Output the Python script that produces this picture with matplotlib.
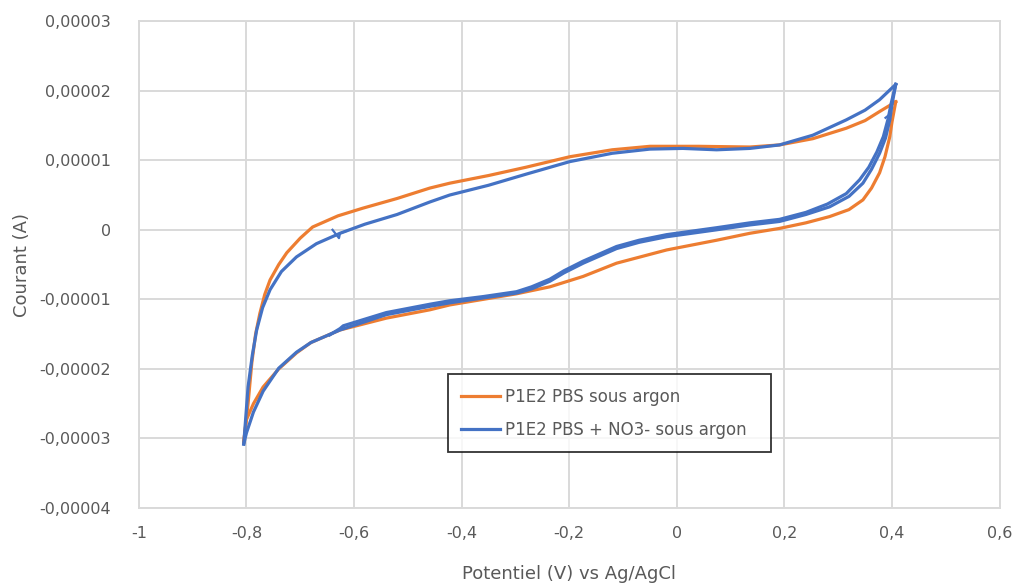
import matplotlib
matplotlib.use('Agg')
import matplotlib.pyplot as plt
from matplotlib.ticker import FuncFormatter

# currents in units of 1e-5 A, potentials in V
# orange: PBS sous argon
orange_down_x = [0.407, 0.40, 0.396, 0.387, 0.377, 0.362, 0.346, 0.32, 0.284, 0.24, 0.191, 0.136, 0.074,
                 -0.019, -0.112, -0.174, -0.236, -0.298, -0.36, -0.422, -0.459, -0.54, -0.626, -0.68,
                 -0.707, -0.74, -0.769, -0.787, -0.80, -0.805]
orange_down_y = [1.84, 1.55, 1.34, 1.05, 0.82, 0.60, 0.43, 0.29, 0.19, 0.10, 0.02, -0.05, -0.15,
                 -0.29, -0.48, -0.67, -0.82, -0.92, -1.00, -1.08, -1.15, -1.27, -1.44, -1.62,
                 -1.77, -2.00, -2.26, -2.50, -2.73, -3.05]
orange_up_x = [-0.805, -0.797, -0.79, -0.783, -0.775, -0.766, -0.756, -0.74, -0.725, -0.70, -0.677,
               -0.63, -0.584, -0.52, -0.459, -0.422, -0.35, -0.28, -0.199, -0.12, -0.05, 0.04, 0.136,
               0.191, 0.253, 0.315, 0.35, 0.377, 0.407]
orange_up_y = [-3.05, -2.50, -1.91, -1.50, -1.20, -0.93, -0.72, -0.50, -0.33, -0.12, 0.04,
               0.20, 0.31, 0.45, 0.60, 0.67, 0.78, 0.90, 1.05, 1.15, 1.20, 1.20, 1.19,
               1.22, 1.31, 1.46, 1.57, 1.70, 1.84]

# blue: PBS + NO3- sous argon
blue_up_x = [-0.805, -0.797, -0.789, -0.781, -0.77, -0.756, -0.735, -0.707, -0.67, -0.626, -0.58,
             -0.52, -0.459, -0.422, -0.35, -0.28, -0.199, -0.12, -0.05, 0.011, 0.074, 0.136, 0.191,
             0.253, 0.315, 0.35, 0.377, 0.407]
blue_up_y = [-3.08, -2.26, -1.80, -1.44, -1.12, -0.86, -0.60, -0.39, -0.20, -0.05, 0.08,
             0.22, 0.40, 0.50, 0.64, 0.80, 0.98, 1.10, 1.16, 1.17, 1.15, 1.17, 1.22,
             1.36, 1.58, 1.72, 1.87, 2.09]
blue_down1_x = [0.407, 0.40, 0.396, 0.388, 0.377, 0.362, 0.346, 0.32, 0.284, 0.24, 0.191, 0.136, 0.074,
                -0.019, -0.07, -0.112, -0.174, -0.21, -0.236, -0.27, -0.298, -0.36, -0.422, -0.459,
                -0.54, -0.626, -0.68, -0.707, -0.74, -0.769, -0.787, -0.80, -0.805]
blue_down1_y = [2.09, 1.80, 1.58, 1.32, 1.10, 0.87, 0.67, 0.48, 0.33, 0.22, 0.12, 0.07, 0.00,
                -0.10, -0.18, -0.27, -0.48, -0.62, -0.74, -0.85, -0.91, -0.98, -1.05, -1.10,
                -1.22, -1.44, -1.62, -1.76, -1.99, -2.32, -2.62, -2.92, -3.08]
blue_down2_x = [0.407, 0.398, 0.393, 0.384, 0.372, 0.357, 0.34, 0.315, 0.28, 0.24, 0.191, 0.136, 0.074,
                -0.019, -0.07, -0.112, -0.174, -0.21, -0.236, -0.27, -0.298, -0.36, -0.422, -0.459,
                -0.54, -0.62, -0.626, -0.645]
blue_down2_y = [2.09, 1.80, 1.60, 1.34, 1.12, 0.90, 0.72, 0.52, 0.37, 0.25, 0.15, 0.10, 0.03,
                -0.07, -0.15, -0.24, -0.45, -0.59, -0.71, -0.82, -0.89, -0.96, -1.02, -1.07,
                -1.19, -1.38, -1.42, -1.51]
blue_notch_x = [-0.64, -0.628, -0.626, -0.615]
blue_notch_y = [0.00, -0.12, -0.05, -0.02]
blue_tick_x = [0.388, 0.396]
blue_tick_y = [1.61, 1.66]

orange = '#ED7D31'
blue = '#4472C4'
grey_text = '#595959'
grid_col = '#D9D9D9'
scale = 1e-5

fig = plt.figure(figsize=(10.21, 5.86), dpi=100)
ax = fig.add_axes([0.136, 0.133, 0.843, 0.831])

lw = 2.3
ax.plot(orange_down_x, [v * scale for v in orange_down_y], color=orange, lw=lw, label='P1E2 PBS sous argon')
ax.plot(orange_up_x, [v * scale for v in orange_up_y], color=orange, lw=lw)
ax.plot(blue_up_x, [v * scale for v in blue_up_y], color=blue, lw=lw, label='P1E2 PBS + NO3- sous argon')
ax.plot(blue_down1_x, [v * scale for v in blue_down1_y], color=blue, lw=lw)
ax.plot(blue_down2_x, [v * scale for v in blue_down2_y], color=blue, lw=lw)
ax.plot(blue_notch_x, [v * scale for v in blue_notch_y], color=blue, lw=1.6)
ax.plot(blue_tick_x, [v * scale for v in blue_tick_y], color=blue, lw=1.6)

ax.set_xlim(-1, 0.6)
ax.set_ylim(-4e-5, 3e-5)
ax.set_xticks([-1, -0.8, -0.6, -0.4, -0.2, 0, 0.2, 0.4, 0.6])
ax.set_yticks([-4e-5, -3e-5, -2e-5, -1e-5, 0, 1e-5, 2e-5, 3e-5])


def fmt_x(v, pos):
    if abs(v) < 1e-9:
        return '0'
    return ('%g' % round(v, 1)).replace('.', ',')


def fmt_y(v, pos):
    if abs(v) < 1e-12:
        return '0'
    return ('%.5f' % v).replace('.', ',')


ax.xaxis.set_major_formatter(FuncFormatter(fmt_x))
ax.yaxis.set_major_formatter(FuncFormatter(fmt_y))
ax.tick_params(length=0, labelsize=11.5, colors=grey_text)
ax.tick_params(axis='y', pad=20)
ax.tick_params(axis='x', pad=13)

ax.grid(True, color=grid_col, lw=1.4)
ax.set_axisbelow(True)
for s in ax.spines.values():
    s.set_color(grid_col)
    s.set_linewidth(1.4)

ax.set_ylabel('Courant (A)', fontsize=13, color=grey_text, labelpad=6)
ax.set_xlabel('Potentiel (V) vs Ag/AgCl', fontsize=13, color=grey_text, labelpad=17)

leg = ax.legend(loc='lower left', bbox_to_anchor=(0.359, 0.115, 0.376, 0.158), mode='expand',
                fontsize=12, frameon=True, fancybox=False, handlelength=2.3, handletextpad=0.3,
                labelspacing=0.9, borderpad=0.8, borderaxespad=0)
leg.get_frame().set_edgecolor('black')
leg.get_frame().set_linewidth(1.3)
for t in leg.get_texts():
    t.set_color(grey_text)

fig.savefig('out.png', dpi=100)
